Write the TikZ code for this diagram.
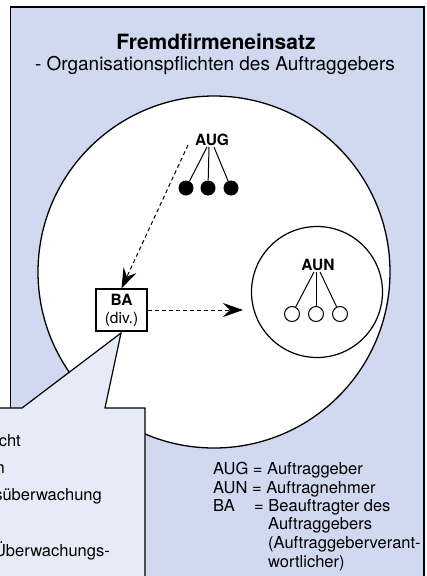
\documentclass[tikz,border=0pt]{standalone}
\usepackage{fontspec}
\setmainfont{TeX Gyre Heros}
\usetikzlibrary{arrows.meta}
\definecolor{outerblue}{RGB}{209,217,240}
\definecolor{calloutblue}{RGB}{231,235,248}
\begin{document}
\begin{tikzpicture}[x=1pt,y=-1pt,
  frame/.style={line width=1.3pt},
  dasharrow/.style={line width=1pt, dash pattern=on 4pt off 3pt, -{Stealth[length=20pt,width=14pt,inset=7pt]}},
  fdot/.style={circle, fill=black, minimum size=15pt, inner sep=0pt},
  odot/.style={circle, draw, fill=white, line width=1pt, minimum size=15pt, inner sep=0pt},
  stem/.style={line width=1pt},
  txt/.style={inner sep=0pt, font=\fontsize{16.5}{19}\selectfont},
  legl/.style={txt, anchor=base west},
  callt/.style={txt, anchor=base east},
  bigc/.style={circle, draw, fill=white, line width=1.3pt, inner sep=0pt}]
\useasboundingbox (0,0) rectangle (427,576);
% outer panel
\fill[outerblue] (10.5,7) rectangle (424,600);
\draw[frame] (10.5,600) -- (10.5,7) -- (424,7) -- (424,600);
% title
\node[inner sep=0pt, font=\fontsize{21}{25}\selectfont\bfseries] (title) at (216,42) {Fremdfirmeneinsatz};
\node[inner sep=0pt, font=\fontsize{19}{23}\selectfont] (subtitle) at (215,65) {- Organisationspflichten des Auftraggebers};
% big circle
\node[bigc, minimum size=352pt] (world) at (214,272) {};
% AUG
\node[inner sep=0pt, font=\fontsize{15.5}{18}\selectfont\bfseries] (aug) at (212,140) {AUG};
\node[fdot] (d1) at (186,188) {};
\node[fdot] (d2) at (208,188) {};
\node[fdot] (d3) at (231,188) {};
\draw[stem] ([xshift=-5pt,yshift=-1pt]aug.south) -- (d1);
\draw[stem] ([xshift=-3pt,yshift=-1pt]aug.south) -- (d2);
\draw[stem] ([xshift=2pt,yshift=-1pt]aug.south) -- (d3);
% AUN
\node[bigc, line width=1.2pt, minimum size=131pt] (auncirc) at (317,292) {};
\node[inner sep=0pt, font=\fontsize{15.5}{18}\selectfont\bfseries] (aun) at (318,265) {AUN};
\node[odot] (o1) at (292,314) {};
\node[odot] (o2) at (316,314) {};
\node[odot] (o3) at (340,314) {};
\draw[stem] ([xshift=-4pt,yshift=-1pt]aun.south) -- (o1);
\draw[stem] ([xshift=-2pt,yshift=-1pt]aun.south) -- (o2);
\draw[stem] ([xshift=2pt,yshift=-1pt]aun.south) -- (o3);
% BA box
\node[draw, line width=1.2pt, fill=white, minimum width=51pt, minimum height=42pt, inner sep=0pt, align=center, font=\fontsize{15.5}{18}\selectfont] (ba) at (121.5,310) {\textbf{BA}\\(div.)};
% connectors
\coordinate (dstart) at (188,145);
\coordinate (aunend) at (243,310);
\draw[dasharrow] (dstart) -- (ba.north);
\draw[dasharrow] (ba.east) -- (aunend);
% callout
\coordinate (tip) at (121,333);
\draw[frame, line width=1.2pt, fill=calloutblue, line join=miter] (-5,408) -- (22,408) -- (tip) -- (105,408) -- (145,408) -- (145,600) -- (-5,600) -- cycle;
\node[callt] (c1) at (21,446) {cht};
\node[callt] (c2) at (5,473) {n};
\node[callt] (c3) at (102,500) {süberwachung};
\node[callt] (c4) at (110,556) {Überwachungs-};
% legend
\node[legl] (l1) at (213,474) {AUG = Auftraggeber};
\node[legl] (l2) at (213,493) {AUN = Auftragnehmer};
\node[legl] (l3a) at (213,511) {BA};
\node[legl] (l3b) at (254,511) {= Beauftragter des};
\node[legl] (l4) at (268,529) {Auftraggebers};
\node[legl] (l5) at (268,548) {(Auftraggeberverant-};
\node[legl] (l6) at (268,567) {wortlicher)};
\end{tikzpicture}
\end{document}
